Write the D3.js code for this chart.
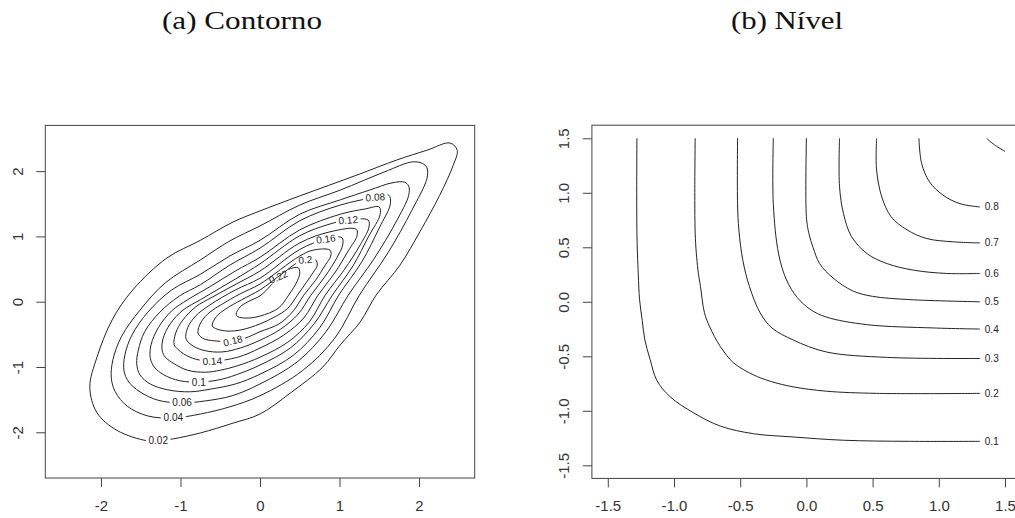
<!DOCTYPE html>
<html>
<head>
<meta charset="utf-8">
<script src="https://cdnjs.cloudflare.com/ajax/libs/d3/7.8.5/d3.min.js"></script>
<style>
  body { margin: 0; background: #fff; }
  .tick text { font-family: "Liberation Sans", Arial, sans-serif; font-size: 15px; fill: #333; }
  .tick line { stroke: #444; }
</style>
</head>
<body>
<svg id="chart" width="1015" height="518"></svg>
<script>
// ---------- panel (a): density contours, one closed ring per level, [x, y]
const levelsA = [0.02, 0.04, 0.06, 0.08, 0.1, 0.12, 0.14, 0.16, 0.18, 0.2, 0.22];

const c002 = [[2.48,2.32],[2.43,2.09],[2.26,1.63],[2.01,1.07],[1.76,0.56],[1.46,0.10],[1.26,-0.31],[1.01,-0.66],[0.79,-1.00],[0.38,-1.40],[0,-1.72],[-0.34,-1.86],[-0.75,-2.01],[-1.09,-2.10],[-1.28,-2.13],[-1.42,-2.13],[-1.80,-1.97],[-2.05,-1.70],[-2.14,-1.31],[-2.05,-0.85],[-1.86,-0.28],[-1.60,0.18],[-1.17,0.67],[-0.75,0.94],[-0.34,1.22],[0,1.39],[0.50,1.62],[1.22,1.94],[1.72,2.17],[2.10,2.32],[2.39,2.43]];
const c004 = [[2.10,2.05],[2.10,1.89],[1.91,1.40],[1.61,0.75],[1.25,0.10],[0.94,-0.56],[0.53,-1.06],[0,-1.44],[-0.38,-1.61],[-0.75,-1.72],[-1.09,-1.78],[-1.41,-1.75],[-1.67,-1.60],[-1.82,-1.38],[-1.87,-1.17],[-1.85,-0.89],[-1.74,-0.53],[-1.51,-0.13],[-1.19,0.29],[-0.75,0.64],[-0.38,0.93],[0,1.16],[0.50,1.48],[1.01,1.71],[1.57,1.99],[1.91,2.14],[2.04,2.12]];
const c006 = [[1.87,1.77],[1.87,1.63],[1.71,1.22],[1.43,0.65],[1.11,0.10],[0.83,-0.46],[0.47,-0.92],[0,-1.26],[-0.35,-1.44],[-0.69,-1.52],[-0.98,-1.55],[-1.28,-1.51],[-1.51,-1.38],[-1.65,-1.23],[-1.71,-1.06],[-1.70,-0.82],[-1.61,-0.51],[-1.41,-0.16],[-1.11,0.18],[-0.75,0.42],[-0.38,0.70],[0,0.94],[0.50,1.34],[1.01,1.56],[1.38,1.71],[1.66,1.82],[1.82,1.83]];
const c008 = [[1.62,1.63],[1.64,1.50],[1.50,1.13],[1.28,0.61],[0.99,0.10],[0.75,-0.40],[0.42,-0.82],[0,-1.11],[-0.31,-1.26],[-0.63,-1.34],[-0.88,-1.38],[-1.16,-1.35],[-1.38,-1.26],[-1.51,-1.12],[-1.55,-0.95],[-1.53,-0.74],[-1.45,-0.46],[-1.26,-0.16],[-1.01,0.09],[-0.75,0.26],[-0.38,0.56],[0,0.82],[0.50,1.24],[1.01,1.48],[1.45,1.60]];
const c010 = [[1.50,1.45],[1.51,1.33],[1.37,1.01],[1.17,0.55],[0.91,0.10],[0.68,-0.34],[0.38,-0.71],[0,-0.97],[-0.30,-1.12],[-0.53,-1.20],[-0.77,-1.23],[-1.01,-1.21],[-1.21,-1.12],[-1.33,-1.00],[-1.38,-0.86],[-1.37,-0.66],[-1.28,-0.40],[-1.11,-0.14],[-0.91,0.03],[-0.63,0.23],[-0.31,0.47],[0,0.68],[0.50,1.10],[1.01,1.34],[1.32,1.42]];
const c012 = [[1.36,1.25],[1.37,1.14],[1.26,0.87],[1.06,0.49],[0.82,0.10],[0.62,-0.31],[0.35,-0.62],[0,-0.85],[-0.28,-0.98],[-0.50,-1.05],[-0.69,-1.08],[-0.91,-1.05],[-1.08,-0.95],[-1.19,-0.85],[-1.23,-0.75],[-1.22,-0.57],[-1.13,-0.34],[-0.97,-0.13],[-0.75,0.03],[-0.50,0.21],[-0.25,0.39],[0,0.58],[0.50,1.01],[0.88,1.19],[1.11,1.25]];
const c014 = [[1.21,1.11],[1.22,1.01],[1.11,0.78],[0.94,0.44],[0.73,0.10],[0.55,-0.25],[0.30,-0.51],[0,-0.71],[-0.28,-0.85],[-0.60,-0.91],[-0.81,-0.88],[-0.96,-0.80],[-1.04,-0.72],[-1.08,-0.66],[-1.06,-0.48],[-0.97,-0.28],[-0.81,-0.08],[-0.60,0.07],[-0.30,0.27],[0,0.47],[0.50,0.90],[0.88,1.07]];
const c016 = [[1.03,0.98],[1.04,0.87],[0.97,0.68],[0.82,0.39],[0.64,0.10],[0.48,-0.19],[0.26,-0.42],[0,-0.59],[-0.25,-0.71],[-0.48,-0.77],[-0.69,-0.75],[-0.84,-0.68],[-0.93,-0.57],[-0.91,-0.40],[-0.81,-0.22],[-0.63,-0.05],[-0.31,0.18],[0,0.36],[0.50,0.80],[0.83,0.96]];
const c018 = [[0.88,0.79],[0.89,0.70],[0.82,0.56],[0.70,0.33],[0.55,0.10],[0.42,-0.14],[0.24,-0.34],[0,-0.46],[-0.19,-0.56],[-0.34,-0.60],[-0.57,-0.60],[-0.72,-0.56],[-0.78,-0.48],[-0.74,-0.31],[-0.63,-0.16],[-0.48,-0.04],[-0.25,0.12],[0,0.27],[0.50,0.70],[0.67,0.79]];
const c020 = [[0.70,0.64],[0.72,0.56],[0.67,0.45],[0.58,0.29],[0.47,0.10],[0.35,-0.10],[0.19,-0.23],[0,-0.34],[-0.23,-0.43],[-0.40,-0.45],[-0.54,-0.42],[-0.60,-0.37],[-0.55,-0.23],[-0.43,-0.11],[-0.23,0.03],[0,0.18],[0.29,0.44],[0.50,0.62],[0.57,0.64]];
const c022 = [[0.48,0.52],[0.50,0.44],[0.47,0.32],[0.36,0.10],[0.23,-0.10],[0,-0.22],[-0.15,-0.25],[-0.28,-0.23],[-0.30,-0.19],[-0.25,-0.08],[-0.15,0.00],[0,0.09],[0.13,0.24],[0.23,0.38],[0.35,0.49]];
const ringsA = [c002, c004, c006, c008, c010, c012, c014, c016, c018, c020, c022];
// where each level label sits on its ring
const labelAtA = [[-1.28,-2.13],[-1.09,-1.78],[-0.98,-1.55],[1.45,1.60],[-0.77,-1.23],[1.11,1.25],[-0.60,-0.91],[0.83,0.96],[-0.34,-0.60],[0.57,0.64],[0.23,0.38]];
const ticksA = [-2, -1, 0, 1, 2];

// ---------- panel (b): level curves, open lines from the top edge to the right edge
const levelsB = [0.1, 0.2, 0.3, 0.4, 0.5, 0.6, 0.7, 0.8, 0.9];
const r01 = [[-1.28,1.50],[-1.28,0.63],[-1.27,0.26],[-1.26,0.02],[-1.24,-0.17],[-1.22,-0.35],[-1.18,-0.53],[-1.13,-0.72],[-1.03,-0.87],[-0.85,-1.02],[-0.65,-1.14],[-0.40,-1.21],[-0.10,-1.24],[0.28,-1.27],[0.78,-1.28],[1.31,-1.28]];
const r02 = [[-0.84,1.50],[-0.84,0.63],[-0.82,0.30],[-0.80,0.14],[-0.77,-0.10],[-0.73,-0.23],[-0.65,-0.41],[-0.55,-0.56],[-0.40,-0.67],[-0.27,-0.73],[-0.10,-0.78],[0.15,-0.82],[0.53,-0.84],[1.31,-0.84]];
const r03 = [[-0.52,1.50],[-0.52,0.90],[-0.51,0.66],[-0.48,0.38],[-0.43,0.14],[-0.35,-0.10],[-0.26,-0.24],[-0.10,-0.35],[0.15,-0.46],[0.61,-0.51],[1.31,-0.52]];
const r04 = [[-0.25,1.50],[-0.25,0.90],[-0.21,0.44],[-0.15,0.20],[-0.07,0.04],[0.03,-0.07],[0.15,-0.14],[0.46,-0.21],[0.96,-0.24],[1.31,-0.25]];
const r05 = [[0.00,1.50],[0.00,0.78],[0.02,0.62],[0.05,0.50],[0.10,0.35],[0.20,0.22],[0.35,0.10],[0.50,0.05],[0.78,0.02],[1.31,0.00]];
const r06 = [[0.25,1.50],[0.25,1.06],[0.28,0.81],[0.34,0.60],[0.46,0.44],[0.61,0.35],[0.81,0.29],[1.06,0.26],[1.31,0.26]];
const r07 = [[0.53,1.50],[0.53,1.21],[0.57,0.96],[0.64,0.78],[0.76,0.66],[0.91,0.58],[1.11,0.55],[1.31,0.54]];
const r08 = [[0.85,1.50],[0.87,1.27],[0.93,1.10],[1.03,0.98],[1.16,0.90],[1.31,0.87]];
const r09 = [[1.36,1.50],[1.42,1.44],[1.50,1.38]];
const curvesB = [r01, r02, r03, r04, r05, r06, r07, r08, r09];
const labelAtB = [[1.40,-1.28],[1.40,-0.84],[1.40,-0.52],[1.40,-0.25],[1.40,0.00],[1.40,0.26],[1.40,0.54],[1.40,0.87], null];
const ticksB = [-1.5, -1.0, -0.5, 0.0, 0.5, 1.0, 1.5];

// ---------- drawing
const W = 1015, H = 518;
const svg = d3.select('#chart');
const defs = svg.append('defs');
const lineColor = '#222';
const labelFont = '10px "Liberation Sans", Arial, sans-serif';
const hyphen = f => d => f(d).replace('\u2212', '-'); // R prints a plain hyphen

function frame(opts) {
    const x = d3.scaleLinear().domain(opts.domain).range([opts.left, opts.right]);
    const y = d3.scaleLinear().domain(opts.domain).range([opts.bottom, opts.top]);
    const g = svg.append('g');

    g.append('rect')
        .attr('x', opts.left).attr('y', opts.top)
        .attr('width', opts.right - opts.left).attr('height', opts.bottom - opts.top)
        .attr('fill', 'none').attr('stroke', '#444');

    const ax = g.append('g')
        .attr('transform', `translate(0,${opts.bottom})`)
        .call(d3.axisBottom(x).tickValues(opts.ticks).tickFormat(opts.fmt).tickSize(9).tickPadding(13));
    ax.select('.domain').remove();
    ax.selectAll('.tick text').attr('dy', '0.71em');

    const ay = g.append('g')
        .attr('transform', `translate(${opts.left},0)`)
        .call(d3.axisLeft(y).tickValues(opts.ticks).tickFormat(opts.fmt).tickSize(9));
    ay.select('.domain').remove();
    ay.selectAll('.tick text')
        .attr('x', null).attr('dy', null)
        .attr('text-anchor', 'middle')
        .attr('dominant-baseline', 'central')
        .attr('transform', 'translate(-28,0) rotate(-90)');

    svg.append('text')
        .attr('x', opts.titleX).attr('y', 29)
        .attr('text-anchor', 'middle')
        .attr('textLength', opts.titleW).attr('lengthAdjust', 'spacingAndGlyphs')
        .style('font', '26px "Liberation Serif", "Times New Roman", serif')
        .style('fill', '#111')
        .text(opts.title);

    return { g, x, y };
}

// panel (a)
const A = frame({
    domain: [-2.7, 2.7], left: 45.3, right: 474.7, top: 125.4, bottom: 478,
    ticks: ticksA, fmt: hyphen(d3.format('d')), title: '(a) Contorno', titleX: 242, titleW: 160
});
const ringLine = d3.line().x(d => A.x(d[0])).y(d => A.y(d[1])).curve(d3.curveCatmullRomClosed.alpha(0.5));
const labelAngleA = [0, 0, 0, -4, 0, -4, -3, -8, -14, -5, -24];

ringsA.forEach((ring, i) => {
    const txt = String(levelsA[i]);
    const px = A.x(labelAtA[i][0]), py = A.y(labelAtA[i][1]);
    const w = txt.length * 5.2 + 4;
    // cut a gap in the ring under its label
    const m = defs.append('mask').attr('id', 'gapA' + i)
        .attr('maskUnits', 'userSpaceOnUse').attr('x', 0).attr('y', 0).attr('width', W).attr('height', H);
    m.append('rect').attr('width', W).attr('height', H).attr('fill', '#fff');
    m.append('rect').attr('x', -w / 2).attr('y', -4).attr('width', w).attr('height', 8)
        .attr('transform', `translate(${px},${py}) rotate(${labelAngleA[i]})`).attr('fill', '#000');

    A.g.append('path').attr('d', ringLine(ring))
        .attr('fill', 'none').attr('stroke', lineColor).attr('stroke-width', 1)
        .attr('mask', `url(#gapA${i})`);
    A.g.append('text')
        .attr('transform', `translate(${px},${py}) rotate(${labelAngleA[i]})`)
        .attr('text-anchor', 'middle').attr('dy', '0.35em')
        .style('font', labelFont).style('fill', '#222')
        .text(txt);
});

// panel (b)
const B = frame({
    domain: [-1.62, 1.62], left: 591.9, right: 1020.9, top: 125.2, bottom: 478.4,
    ticks: ticksB, fmt: hyphen(d3.format('.1f')), title: '(b) Nível', titleX: 787, titleW: 112
});
const openLine = d3.line().x(d => B.x(d[0])).y(d => B.y(d[1])).curve(d3.curveCatmullRom.alpha(0.5));

curvesB.forEach((curve, i) => {
    B.g.append('path').attr('d', openLine(curve))
        .attr('fill', 'none').attr('stroke', lineColor).attr('stroke-width', 1);
    if (labelAtB[i]) {
        B.g.append('text')
            .attr('x', B.x(labelAtB[i][0])).attr('y', B.y(labelAtB[i][1]))
            .attr('text-anchor', 'middle').attr('dy', '0.35em')
            .style('font', labelFont).style('fill', '#222')
            .text(String(levelsB[i]));
    }
});
</script>
</body>
</html>
